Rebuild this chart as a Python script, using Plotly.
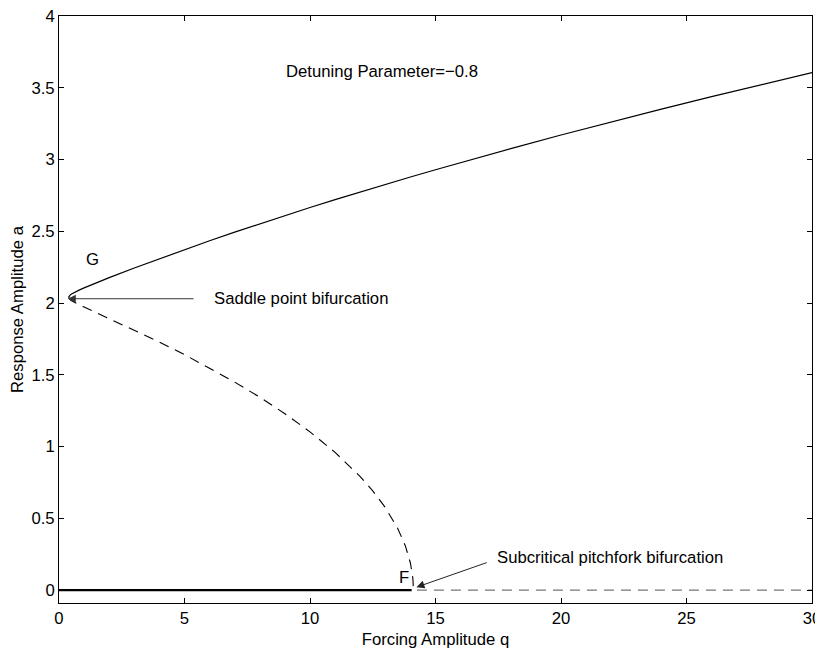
import plotly.graph_objects as go

# Upper (stable) nontrivial branch: forcing q vs response a
q_upper = [0.38, 0.40, 0.45, 0.5, 0.6, 0.8, 1.0, 1.5, 2, 3, 4, 5, 6, 7, 8, 9, 10,
           11, 12, 13, 14, 15, 16, 18, 20, 22, 24, 26, 28, 30]
a_upper = [2.0396, 2.0486, 2.0569, 2.0630, 2.0729, 2.0899, 2.1054, 2.1419, 2.1769,
           2.2443, 2.3094, 2.3726, 2.4341, 2.4940, 2.5524, 2.6096, 2.6655, 2.7203,
           2.7739, 2.8266, 2.8782, 2.9290, 2.9789, 3.0763, 3.1706, 3.2623, 3.3514,
           3.4382, 3.5229, 3.6056]

# Lower (unstable) nontrivial branch
q_lower = [0.38, 0.40, 0.45, 0.5, 0.6, 0.8, 1.0, 1.5, 2, 3, 4, 5, 6, 7, 8, 9, 10,
           11, 12, 12.5, 13, 13.5, 13.8, 14, 14.1, 14.121]
a_lower = [2.0396, 2.0306, 2.0221, 2.0160, 2.0058, 1.9881, 1.9717, 1.9320, 1.8924,
           1.8119, 1.7282, 1.6404, 1.5477, 1.4492, 1.3435, 1.2289, 1.1023, 0.9593,
           0.7908, 0.6914, 0.5749, 0.4279, 0.3077, 0.1889, 0.0787, 0.0]

# Trivial branch
q_trivial_stable = [0, 14.05]
a_trivial_stable = [0, 0]
q_trivial_unstable = [14.26, 30]
a_trivial_unstable = [0, 0]

x_ticks = [0, 5, 10, 15, 20, 25, 30]
y_ticks = [0, 0.5, 1, 1.5, 2, 2.5, 3, 3.5, 4]

FONT = "Liberation Sans, Arial, Helvetica, sans-serif"
FS = 16.7

fig = go.Figure()
fig.add_trace(go.Scatter(x=q_upper, y=a_upper, mode="lines",
                         line=dict(color="black", width=1.2), showlegend=False))
fig.add_trace(go.Scatter(x=q_lower, y=a_lower, mode="lines",
                         line=dict(color="black", width=1.1, dash="10px,7px"),
                         showlegend=False))
fig.add_trace(go.Scatter(x=q_trivial_stable, y=a_trivial_stable, mode="lines",
                         line=dict(color="black", width=2.4), showlegend=False))
fig.add_trace(go.Scatter(x=q_trivial_unstable, y=a_trivial_unstable, mode="lines",
                         line=dict(color="#777777", width=1.4, dash="10px,7px"),
                         showlegend=False))

ann_font = dict(family=FONT, size=FS, color="black")
fig.add_annotation(x=0.35, y=2.03, ax=5.42, ay=2.03, xref="x", yref="y",
                   axref="x", ayref="y", text="", showarrow=True,
                   arrowhead=2, arrowsize=1.6, arrowwidth=1, arrowcolor="#333333")
fig.add_annotation(x=6.1, y=2.03, text="Saddle point bifurcation", showarrow=False,
                   xanchor="left", yanchor="middle", font=ann_font)
fig.add_annotation(x=14.24, y=0.02, ax=17.1, ay=0.195, xref="x", yref="y",
                   axref="x", ayref="y", text="", showarrow=True,
                   arrowhead=2, arrowsize=1.6, arrowwidth=1, arrowcolor="#222222")
fig.add_annotation(x=17.36, y=0.225, text="Subcritical pitchfork bifurcation",
                   showarrow=False, xanchor="left", yanchor="middle", font=ann_font)
fig.add_annotation(x=1.32, y=2.306, text="G", showarrow=False, font=ann_font)
fig.add_annotation(x=13.75, y=0.09, text="F", showarrow=False, font=ann_font)
fig.add_annotation(x=12.88, y=3.61, text="Detuning Parameter=\u22120.8", showarrow=False,
                   font=ann_font)

axis_common = dict(showline=True, linecolor="black", linewidth=1, mirror="ticks",
                   ticks="inside", ticklen=5, tickcolor="black", tickwidth=1,
                   showgrid=False, zeroline=False, automargin=False,
                   ticklabeloverflow="allow",
                   tickfont=dict(family=FONT, size=FS, color="black"))

fig.update_xaxes(range=[0, 30], tickvals=x_ticks,
                 title=dict(text="Forcing Amplitude q", standoff=6,
                            font=dict(family=FONT, size=FS, color="black")),
                 **axis_common)
fig.update_yaxes(range=[-0.09, 4], tickvals=y_ticks,
                 title=dict(text="Response Amplitude a", standoff=5,
                            font=dict(family=FONT, size=FS, color="black")),
                 **axis_common)

# The page body adds an 8px offset, so the figure is sized and margined to put
# the plot box at the same window position as in the reference.
fig.update_layout(width=815, height=645, paper_bgcolor="white", plot_bgcolor="white",
                  margin=dict(l=51, r=11, t=8, b=50), font=dict(family=FONT),
                  showlegend=False)

fig.write_html("out.html")
